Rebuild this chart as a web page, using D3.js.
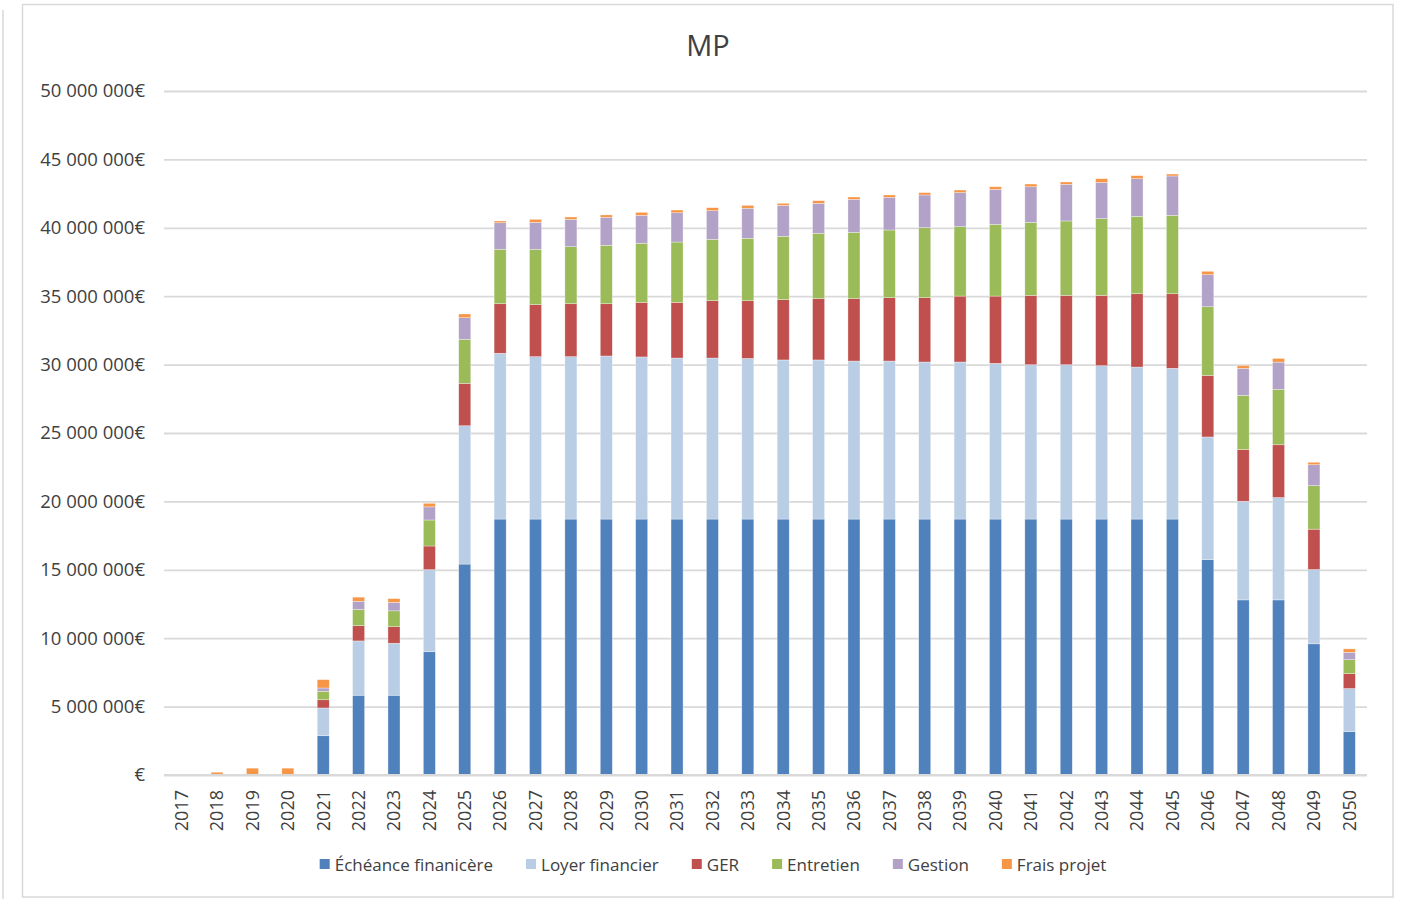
<!DOCTYPE html>
<html>
<head>
<meta charset="utf-8">
<script src="https://cdn.jsdelivr.net/npm/d3@7/dist/d3.min.js"></script>
<style>
  html, body { margin: 0; padding: 0; background: #fff; }
  svg { display: block; }
  text { font-family: "Open Sans", "Noto Sans", sans-serif; fill: #404040; }
</style>
</head>
<body>
<svg id="chart" width="1405" height="899"></svg>
<script>
// ---- Data (values in millions of euros) ----
const years = ["2017","2018","2019","2020","2021","2022","2023","2024","2025","2026","2027","2028","2029","2030","2031","2032","2033","2034","2035","2036","2037","2038","2039","2040","2041","2042","2043","2044","2045","2046","2047","2048","2049","2050"];
const echeance = [0,0,0,0,2.87,5.83,5.83,9.01,15.42,18.71,18.71,18.71,18.71,18.71,18.71,18.71,18.71,18.71,18.71,18.71,18.71,18.71,18.71,18.71,18.71,18.71,18.71,18.71,18.71,15.74,12.8,12.8,9.59,3.17];
const loyer = [0,0,0,0,2.03,3.97,3.8,6.0,10.11,12.12,11.87,11.87,11.92,11.85,11.77,11.77,11.74,11.63,11.63,11.55,11.55,11.48,11.48,11.38,11.28,11.28,11.21,11.11,11.02,8.97,7.21,7.48,5.43,3.15];
const ger = [0,0,0,0,0.6,1.12,1.21,1.73,3.1,3.62,3.8,3.87,3.82,3.99,4.07,4.19,4.22,4.41,4.48,4.56,4.63,4.7,4.82,4.92,5.07,5.07,5.14,5.36,5.45,4.5,3.78,3.86,2.95,1.09];
const entretien = [0,0,0,0,0.62,1.18,1.16,1.9,3.22,3.98,4.05,4.17,4.27,4.32,4.41,4.49,4.56,4.63,4.78,4.85,4.95,5.12,5.07,5.24,5.34,5.44,5.61,5.66,5.73,5.02,3.96,4.05,3.18,1.02];
const gestion = [0,0,0,0,0.24,0.6,0.62,0.96,1.58,1.94,1.97,2.0,2.05,2.04,2.14,2.09,2.2,2.26,2.19,2.41,2.39,2.39,2.49,2.56,2.6,2.68,2.65,2.75,2.88,2.34,1.98,1.99,1.53,0.54];
const frais = [0,0.2,0.5,0.5,0.61,0.3,0.27,0.26,0.27,0.13,0.22,0.17,0.17,0.22,0.2,0.22,0.21,0.15,0.19,0.17,0.17,0.17,0.19,0.19,0.2,0.17,0.27,0.22,0.14,0.25,0.2,0.27,0.18,0.25];

const seriesNames = ["Échéance finanicère","Loyer financier","GER","Entretien","Gestion","Frais projet"];
const seriesColors = ["#4f81bd","#b9cde5","#c0504d","#9bbb59","#b3a2c7","#f79646"];
const yTicks = [0,5,10,15,20,25,30,35,40,45,50];
const title = "MP";

// ---- Build table ----
const seriesArrays = [echeance, loyer, ger, entretien, gestion, frais];
const keys = seriesNames;
const table = years.map((y, i) => {
  const row = { year: y };
  keys.forEach((k, j) => row[k] = seriesArrays[j][i]);
  return row;
});
const stacked = d3.stack().keys(keys)(table);

// ---- Layout ----
const svg = d3.select("#chart");
const plot = { left: 164, right: 1367, top: 91, bottom: 775 };

const x = d3.scaleBand().domain(years).range([plot.left, plot.right]).paddingInner(0.66).paddingOuter(0.33);
const y = d3.scaleLinear().domain([0, 50]).range([plot.bottom, plot.top]);

const locale = d3.formatLocale({ decimal: ",", thousands: " ", grouping: [3], currency: ["", "€"] });
const fmt = locale.format(",.0f");
const tickFmt = d => d === 0 ? "€" : fmt(d * 1e6) + "€";

// outer frames
svg.append("line").attr("x1", 3).attr("x2", 3).attr("y1", 10).attr("y2", 899)
  .attr("stroke", "#d9d9d9").attr("stroke-width", 1.5);
svg.append("rect").attr("x", 22.5).attr("y", 4.5).attr("width", 1370.5).attr("height", 892.5)
  .attr("fill", "#fff").attr("stroke", "#d9d9d9").attr("stroke-width", 1.5);

// title
svg.append("text").attr("x", 708).attr("y", 44).attr("text-anchor", "middle")
  .attr("dominant-baseline", "central").style("font-size", "29px").text(title);

// gridlines + y labels
const yAxis = d3.axisLeft(y).tickValues(yTicks).tickSize(-(plot.right - plot.left)).tickPadding(19).tickFormat(tickFmt);
const gy = svg.append("g").attr("transform", `translate(${plot.left},0)`).call(yAxis);
gy.select(".domain").remove();
gy.selectAll(".tick line").attr("stroke", "#d9d9d9").attr("stroke-width", 1.8);
gy.selectAll(".tick text").style("font-size", "18.5px").attr("fill", "#404040")
  .style("font-family", "'Open Sans', sans-serif");

// bars
const layers = svg.append("g").selectAll("g").data(stacked).join("g")
  .attr("fill", (d, i) => seriesColors[i]);
layers.selectAll("rect").data(d => d).join("rect")
  .attr("x", d => x(d.data.year))
  .attr("width", x.bandwidth())
  .attr("y", d => y(d[1]))
  .attr("height", d => Math.max(0, y(d[0]) - y(d[1])))
  .attr("stroke", "#ffffff").attr("stroke-opacity", 0.55).attr("stroke-width", 0.6);

// baseline
svg.append("line").attr("x1", plot.left).attr("x2", plot.right)
  .attr("y1", y(0)).attr("y2", y(0)).attr("stroke", "#d9d9d9").attr("stroke-width", 1.8);

// x labels
const xAxis = d3.axisBottom(x).tickSize(0).tickPadding(0);
const gx = svg.append("g").attr("transform", `translate(0,${plot.bottom})`).call(xAxis);
gx.select(".domain").remove();
gx.selectAll(".tick text")
  .attr("transform", "translate(0,15) rotate(-90)")
  .attr("text-anchor", "end").attr("dy", "0.35em").attr("y", 0).attr("x", 0)
  .style("font-size", "18px").attr("fill", "#404040")
  .style("font-family", "'Open Sans', sans-serif");

// legend
const legend = svg.append("g");
const items = legend.selectAll("g").data(seriesNames).join("g");
items.append("rect").attr("width", 10).attr("height", 10).attr("y", -5)
  .attr("fill", (d, i) => seriesColors[i]);
items.append("text").attr("x", 15).attr("dominant-baseline", "central")
  .style("font-size", "17px").text(d => d);
let cursor = 0;
const widths = [];
items.each(function () {
  const w = 15 + this.querySelector("text").getComputedTextLength();
  widths.push(w);
});
const gap = 33;
const total = d3.sum(widths) + gap * (widths.length - 1);
cursor = 713 - total / 2;
items.attr("transform", (d, i) => {
  const tx = cursor;
  cursor += widths[i] + gap;
  return `translate(${tx},864)`;
});
</script>
</body>
</html>
